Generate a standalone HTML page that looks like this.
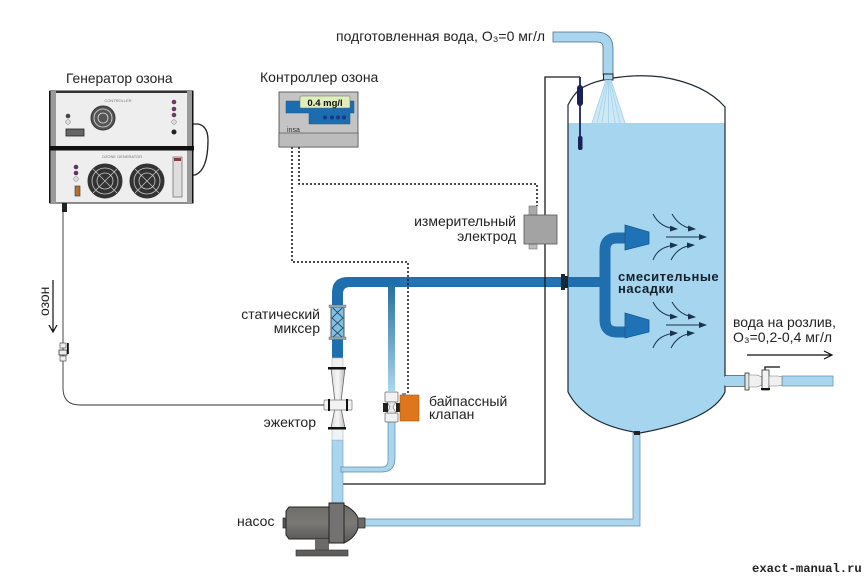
<!DOCTYPE html>
<html><head><meta charset="utf-8"><style>
html,body{margin:0;padding:0;background:#fff}
svg{display:block}
text{font-family:"Liberation Sans",sans-serif;fill:#222}
</style></head><body>
<svg width="868" height="578" viewBox="0 0 868 578" xmlns="http://www.w3.org/2000/svg">
<defs>
<linearGradient id="byp" x1="0" y1="0" x2="0" y2="1"><stop offset="0" stop-color="#27709f"/><stop offset="1" stop-color="#a9d6ee"/></linearGradient>
<linearGradient id="mgr" x1="0" y1="0" x2="1" y2="0"><stop offset="0" stop-color="#ddd"/><stop offset=".5" stop-color="#f7f7f7"/><stop offset="1" stop-color="#bbb"/></linearGradient>
<linearGradient id="pump" x1="0" y1="0" x2="0" y2="1"><stop offset="0" stop-color="#6f6d6a"/><stop offset=".5" stop-color="#7b7976"/><stop offset="1" stop-color="#5c5a58"/></linearGradient>
<marker id="ah" markerWidth="8" markerHeight="6" refX="7" refY="3" orient="auto"><path d="M0 0L8 3L0 6z" fill="#17334d"/></marker>
</defs>

<!-- labels -->
<text x="336" y="41" font-size="14">подготовленная вода, О₃=0 мг/л</text>
<text x="66" y="83" font-size="13.800">Генератор озона</text>
<text x="260" y="82" font-size="14">Контроллер озона</text>
<text x="516" y="226" font-size="14" text-anchor="end">измерительный</text>
<text x="516" y="241" font-size="14" text-anchor="end">электрод</text>
<text x="320" y="319" font-size="14" text-anchor="end">статический</text>
<text x="320" y="333" font-size="14" text-anchor="end">миксер</text>
<text x="316" y="427" font-size="14" text-anchor="end">эжектор</text>
<text x="429" y="406" font-size="14">байпассный</text>
<text x="429" y="419" font-size="14">клапан</text>
<text x="237" y="526" font-size="14">насос</text>
<text x="733" y="327" font-size="14">вода на розлив,</text>
<text x="733" y="342" font-size="14">О₃=0,2-0,4 мг/л</text>
<text transform="translate(49,316) rotate(-90)" font-size="14">озон</text>

<!-- tank -->
<path d="M568 105Q573 95 580 89Q590 83 603 79L613 78Q640 74 662 77Q705 84 725 107V373H745V386H725V392Q712 420 640 433Q585 425 568 392Z" fill="#fff"/>
<path d="M568 123H725V392Q712 420 640 433Q585 425 568 392Z" fill="#a5d5ef"/>
<path d="M568 392V105Q573 95 580 89Q590 83 603 80M613 78Q640 74 662 77Q705 84 725 107V376H745M745 386H725V392Q712 420 640 433Q585 425 568 392" fill="none" stroke="#1e2a33" stroke-width="1.200"/>

<!-- top inlet -->
<path d="M553 32H596Q613 32 613 49V75H603V47Q603 42 597 42H553Z" fill="#a9d6ee" stroke="#4a6f85" stroke-width=".8"/>
<rect x="603.500" y="74" width="9.500" height="6" fill="#a9d6ee" stroke="#222" stroke-width="1"/>
<path d="M606 80H611L625 123H592Z" fill="#cfe8f5"/>
<path d="M606 80L592 123M607 80L597 123M608 80L602 123M608.500 80V123M609 80L615 123M610 80L620 123M611 80L625 123" stroke="#a9d6ee" stroke-width="1" fill="none"/>

<!-- wire + probe -->
<path d="M341 484H545V77H580" fill="none" stroke="#1a1a1a" stroke-width="1.300"/>
<path d="M580 77V137" fill="none" stroke="#1c2058" stroke-width="1.800"/>
<circle cx="341" cy="484" r="1.800" fill="#111"/>
<rect x="577" y="85" width="6" height="21" rx="3" fill="#1c2058"/>
<rect x="578" y="136" width="4.500" height="14" rx="2" fill="#1c2058"/>

<!-- main dark pipe -->
<path d="M332 305V293Q332 277 348 277H600V287H350Q343 287 343 294V305Z" fill="#1f6fae"/>
<rect x="400" y="279" width="160" height="6" fill="#2878b4" opacity=".6"/>
<rect x="332" y="338" width="11" height="20" fill="#1f6fae"/>
<path d="M545 277V287" stroke="#1a1a1a" stroke-width="1.300"/>
<rect x="561" y="274" width="4" height="16" fill="#152a3a"/>
<rect x="565" y="276" width="3" height="12" fill="#222"/>

<!-- manifold -->
<path d="M625 238H617Q605 238 605 250V320Q605 332 617 332H625" fill="none" stroke="#1f6fae" stroke-width="11"/>
<path d="M625 225L649 232V244L625 250Z" fill="#1f72b5" stroke="#175a8e" stroke-width=".8"/>
<path d="M625 313L649 320V332L625 338Z" fill="#1f72b5" stroke="#175a8e" stroke-width=".8"/>

<!-- flow arrows -->
<g fill="none" stroke="#17334d" stroke-width="1">
<path d="M653 214Q660 228 677 229" marker-end="url(#ah)"/>
<path d="M672 214Q680 228 695 229" marker-end="url(#ah)"/>
<path d="M666 237H706" marker-end="url(#ah)"/>
<path d="M653 260Q658 246 677 245" marker-end="url(#ah)"/>
<path d="M671 260Q678 246 694 245" marker-end="url(#ah)"/>
<path d="M653 302Q660 316 677 317" marker-end="url(#ah)"/>
<path d="M672 302Q680 316 695 317" marker-end="url(#ah)"/>
<path d="M666 325H706" marker-end="url(#ah)"/>
<path d="M653 348Q658 334 677 333" marker-end="url(#ah)"/>
<path d="M671 348Q678 334 694 333" marker-end="url(#ah)"/>
</g>
<text x="618" y="281" font-size="13" font-weight="bold" letter-spacing=".5" style="fill:#14202c">смесительные</text>
<text x="618" y="293" font-size="13" font-weight="bold" letter-spacing=".5" style="fill:#14202c">насадки</text>

<!-- measuring electrode -->
<rect x="529" y="206" width="8" height="10" fill="#aaa" stroke="#777" stroke-width=".6"/>
<rect x="529" y="244" width="8" height="5" fill="#bbb" stroke="#777" stroke-width=".6"/>
<rect x="524" y="215" width="33" height="29" fill="#a3a3a3" stroke="#555" stroke-width=".8"/>

<!-- dotted -->
<g fill="none" stroke="#111" stroke-width="1.500" stroke-dasharray="2 2">
<path d="M299 147V184H537V206"/>
<path d="M292 147V262H408V395"/>
</g>

<!-- lower pipes -->
<rect x="332" y="440" width="11" height="68" fill="#a9d6ee" stroke="#6d98b0" stroke-width=".6"/>
<path d="M388 285H395V391H388Z" fill="url(#byp)"/>
<path d="M388 421H395V458Q395 472 382 472H341V467H382Q388 467 388 460Z" fill="#a9d6ee" stroke="#5a8ba8" stroke-width=".7"/>
<path d="M365 519H633V433H640V526H365Z" fill="#a9d6ee" stroke="#5a8ba8" stroke-width=".7"/>
<rect x="634" y="431" width="6" height="4" fill="#222"/>

<!-- mixer -->
<rect x="331" y="306" width="13" height="32" fill="#7fc0e4" stroke="#333" stroke-width=".8"/>
<path d="M332 307L343 318L332 328L343 338M343 307L332 318L343 328L332 338" fill="none" stroke="#2b4a62" stroke-width=".9"/>
<rect x="329" y="305" width="17" height="2.500" fill="#9aa" stroke="#555" stroke-width=".4"/>
<rect x="329" y="337" width="17" height="2.500" fill="#9aa" stroke="#555" stroke-width=".4"/>

<!-- ejector -->
<rect x="332" y="358" width="11" height="10" fill="#f0f0f0" stroke="#bbb" stroke-width=".6"/>
<path d="M331 368H345L341 402H335Z" fill="url(#mgr)" stroke="#666" stroke-width=".8"/>
<path d="M335 408H341L345 428H331Z" fill="url(#mgr)" stroke="#666" stroke-width=".8"/>
<path d="M332 429H343V440H332Z" fill="#eaf4f9" stroke="#bbb" stroke-width=".6"/>
<rect x="328" y="367" width="18" height="2.500" fill="#111"/>
<rect x="328" y="427" width="18" height="2.500" fill="#111"/>
<rect x="324" y="400" width="28" height="10" rx="1" fill="#f2f2f2" stroke="#777" stroke-width=".7"/>
<rect x="328" y="399" width="2" height="12" fill="#111"/>
<rect x="346" y="399" width="2" height="12" fill="#111"/>

<!-- bypass valve -->
<rect x="385" y="392" width="13" height="10" rx="1" fill="#f2f2f2" stroke="#666" stroke-width=".7"/>
<rect x="385" y="413" width="13" height="9" rx="1" fill="#f2f2f2" stroke="#666" stroke-width=".7"/>
<path d="M387 402H396L393 407L396 413H387L390 407Z" fill="#e8e8e8" stroke="#666" stroke-width=".6"/>
<rect x="383" y="403" width="5" height="9" fill="#222"/>
<rect x="396" y="403" width="4" height="9" fill="#222"/>
<rect x="400" y="395" width="19" height="26" fill="#e0761c" stroke="#a65412" stroke-width=".6"/>
<rect x="402" y="393" width="4" height="2" fill="#888"/>

<!-- pump -->
<rect x="283" y="518" width="4" height="10" fill="#5c5a58" stroke="#222" stroke-width=".7"/>
<path d="M289 507H329V539H289L286 535V511Z" fill="url(#pump)" stroke="#222" stroke-width="1"/>
<rect x="315" y="539" width="14" height="11" fill="#6b6a68"/>
<rect x="296" y="550" width="52" height="6" fill="#5f5d5b" stroke="#333" stroke-width=".6"/>
<path d="M344 505Q355 510 358 518V528Q355 538 344 543Z" fill="url(#pump)" stroke="#222" stroke-width="1"/>
<rect x="329" y="503" width="15" height="40" fill="#747270" stroke="#222" stroke-width="1"/>
<rect x="358" y="518" width="7" height="10" fill="#6b6a68" stroke="#222" stroke-width=".7"/>

<!-- outlet -->
<path d="M725 376H745V386H725" fill="#a5d5ef"/>
<rect x="782" y="376" width="51" height="10" fill="#a9d6ee" stroke="#5a8ba8" stroke-width=".7"/>
<rect x="745" y="373" width="4" height="17" fill="#e6e6e6" stroke="#333" stroke-width=".8"/>
<path d="M749 375H757L762 377V385L757 387H749Z" fill="#f0f0f0" stroke="#777" stroke-width=".6"/>
<rect x="762" y="370" width="7" height="20" fill="#f2f2f2" stroke="#333" stroke-width=".8"/>
<rect x="761" y="388" width="9" height="2" fill="#111"/>
<path d="M769 376H778L782 377V385L778 386H769Z" fill="#f0f0f0" stroke="#777" stroke-width=".6"/>
<path d="M765 370V367H780" fill="none" stroke="#333" stroke-width="1.500"/>
<path d="M747 355H831M824 351L832 355L824 359" fill="none" stroke="#111" stroke-width="1.200"/>

<!-- ozone line -->
<path d="M63 212V388Q63 405 80 405H324" fill="none" stroke="#333" stroke-width=".9"/>
<rect x="62" y="203" width="5" height="9" fill="#222"/>
<path d="M53 280V332M49 325L53 332L57 325" fill="none" stroke="#111" stroke-width="1.200"/>
<rect x="60" y="343" width="6" height="5" fill="#eee" stroke="#555" stroke-width=".7"/>
<rect x="59" y="350" width="8" height="5" fill="#eee" stroke="#333" stroke-width=".8"/>
<rect x="60" y="356" width="6" height="5" fill="#eee" stroke="#555" stroke-width=".7"/>
<rect x="67" y="343" width="1.800" height="11" fill="#111"/>

<!-- generator -->
<path d="M193 124H198Q208 126 208 140Q208 170 195 175H193" fill="none" stroke="#222" stroke-width="1.300"/>
<rect x="50" y="91" width="143" height="112" fill="#eeeeee" stroke="#222" stroke-width="1"/>
<rect x="50" y="91" width="143" height="2" fill="#333"/>
<rect x="50" y="91" width="6" height="112" fill="#9a9a9a"/>
<rect x="187" y="91" width="6" height="112" fill="#9a9a9a"/>
<rect x="49" y="91" width="1.500" height="112" fill="#111"/>
<rect x="192" y="91" width="1.500" height="112" fill="#111"/>
<rect x="49" y="146" width="145" height="4.500" fill="#111"/>
<text x="118" y="102" font-size="4" text-anchor="middle" style="fill:#777">CONTROLLER</text>
<text x="122" y="158" font-size="4" text-anchor="middle" style="fill:#777">OZONE GENERATOR</text>
<g fill="none" stroke="#333">
<circle cx="103" cy="118" r="12" fill="#555" stroke-width="1"/>
<circle cx="103" cy="118" r="9" stroke="#ddd" stroke-width=".8"/>
<circle cx="103" cy="118" r="5" stroke="#ddd" stroke-width=".8"/>
<circle cx="105" cy="181" r="17" fill="#333" stroke-width="1"/>
<circle cx="105" cy="181" r="13" stroke="#ccc" stroke-width=".8"/>
<circle cx="105" cy="181" r="8" stroke="#ccc" stroke-width=".8"/>
<path d="M93 169L117 193M117 169L93 193" stroke="#ccc" stroke-width=".7"/>
<circle cx="147" cy="181" r="17" fill="#333" stroke-width="1"/>
<circle cx="147" cy="181" r="13" stroke="#ccc" stroke-width=".8"/>
<circle cx="147" cy="181" r="8" stroke="#ccc" stroke-width=".8"/>
<path d="M135 169L159 193M159 169L135 193" stroke="#ccc" stroke-width=".7"/>
</g>
<circle cx="174" cy="102" r="2.300" fill="#6b3a66"/><circle cx="174" cy="109" r="2.300" fill="#6b3a66"/><circle cx="174" cy="115" r="2.300" fill="#6b3a66"/><circle cx="174" cy="122" r="2.300" fill="#ddd" stroke="#777" stroke-width=".5"/>
<circle cx="174" cy="132" r="2.500" fill="#222"/>
<circle cx="68" cy="116" r="2.300" fill="#444"/><circle cx="68" cy="122" r="2.300" fill="#ddd" stroke="#777" stroke-width=".5"/>
<rect x="66" y="129" width="18" height="7" fill="#666" stroke="#222" stroke-width=".8"/>
<circle cx="76" cy="167" r="2.300" fill="#5a3565"/><circle cx="76" cy="173" r="2.300" fill="#5a3565"/><circle cx="76" cy="179" r="2.300" fill="#ddd" stroke="#777" stroke-width=".5"/>
<rect x="75" y="186" width="5" height="10" fill="#b5712a" stroke="#333" stroke-width=".6"/>
<rect x="173" y="157" width="9" height="40" fill="#ddd" stroke="#666" stroke-width=".7"/>
<rect x="174" y="158" width="7" height="3" fill="#8a3a3a"/>

<!-- controller -->
<rect x="279" y="92" width="79" height="55" fill="#c4c4c4" stroke="#444" stroke-width=".8"/>
<rect x="279" y="133" width="79" height="14" fill="#bcbcbc" stroke="#444" stroke-width=".6"/>
<path d="M286 101H354V113H350V124H309V113H286Z" fill="#1c6db0" stroke="#185a8f" stroke-width=".5"/>
<rect x="300" y="96" width="50" height="12" rx="1" fill="#dfeebb" stroke="#666" stroke-width=".5"/>
<text x="325" y="106" font-size="9.500" font-weight="bold" text-anchor="middle" style="fill:#111">0.4 mg/l</text>
<circle cx="325" cy="117.500" r="2" fill="#133a8a"/><circle cx="332" cy="117.500" r="2" fill="#133a8a"/><circle cx="338" cy="117.500" r="2" fill="#133a8a"/><circle cx="344" cy="117.500" r="2" fill="#133a8a"/>
<text x="287" y="132" font-size="7" style="fill:#333">insa</text>

<!-- watermark -->
<text x="752" y="572" font-size="12.200" font-weight="bold" style="font-family:'Liberation Mono',monospace;fill:#222">exact-manual.ru</text>
</svg>
</body></html>
